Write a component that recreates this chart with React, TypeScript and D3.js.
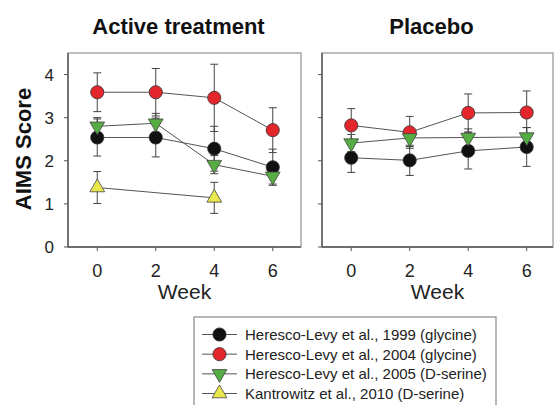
import { useEffect, useRef } from "react";
import * as d3 from "d3";

const WIDTH = 555;
const HEIGHT = 405;

const weeks = [0, 2, 4, 6];
const yTicks = [0, 1, 2, 3, 4];

const seriesNames = [
  "Heresco-Levy et al., 1999 (glycine)",
  "Heresco-Levy et al., 2004 (glycine)",
  "Heresco-Levy et al., 2005 (D-serine)",
  "Kantrowitz et al., 2010 (D-serine)",
];
const seriesColors = ["#111111", "#e3262b", "#55ad43", "#e8e84c"];
const seriesShapes = ["circle", "circle", "down", "up"];

// Active treatment (null = not reported)
const active1999 = [2.54, 2.54, 2.28, 1.85];
const active1999Err = [0.43, 0.45, 0.52, 0.42];
const active2004 = [3.59, 3.59, 3.46, 2.71];
const active2004Err = [0.45, 0.55, 0.78, 0.52];
const active2005 = [2.8, 2.87, 1.91, 1.64];
const active2005Err = [0.2, 0.23, 0.21, 0.18];
const active2010 = [1.38, null, 1.14, null];
const active2010Err = [0.37, null, 0.36, null];

// Placebo
const placebo1999 = [2.07, 2.01, 2.23, 2.32];
const placebo1999Err = [0.34, 0.35, 0.42, 0.45];
const placebo2004 = [2.82, 2.66, 3.11, 3.12];
const placebo2004Err = [0.39, 0.37, 0.44, 0.5];
const placebo2005 = [2.41, 2.53, 2.54, 2.55];
const placebo2005Err = [0.2, 0.2, 0.2, 0.22];

const FONT = "Liberation Sans, Arial, sans-serif";

export default function App() {
  const svgRef = useRef<SVGSVGElement>(null);

  useEffect(() => {
    if (!svgRef.current) return;
    const svg = d3.select(svgRef.current);
    svg.selectAll("*").remove();

    svg.append("rect").attr("width", WIDTH).attr("height", HEIGHT).attr("fill", "#fff");

    const top = 53;
    const bottom = 247;
    const y = d3.scaleLinear().domain([0, 4.5]).range([bottom, top]);

    const panels = [
      {
        title: "Active treatment",
        x: d3.scaleLinear().domain([-1, 7]).range([68, 302]),
        left: 68,
        right: 301,
        labels: true,
        series: [
          { v: active1999, e: active1999Err, i: 0 },
          { v: active2004, e: active2004Err, i: 1 },
          { v: active2005, e: active2005Err, i: 2 },
          { v: active2010, e: active2010Err, i: 3 },
        ],
      },
      {
        title: "Placebo",
        x: d3.scaleLinear().domain([-1, 6.9]).range([322, 553]),
        left: 322,
        right: 553,
        labels: false,
        series: [
          { v: placebo1999, e: placebo1999Err, i: 0 },
          { v: placebo2004, e: placebo2004Err, i: 1 },
          { v: placebo2005, e: placebo2005Err, i: 2 },
        ],
      },
    ];

    const drawMarker = (g: any, cx: number, cy: number, i: number, scale = 1) => {
      const shape = seriesShapes[i];
      if (shape === "circle") {
        g.append("circle")
          .attr("cx", cx)
          .attr("cy", cy)
          .attr("r", 6.6 * scale)
          .attr("fill", seriesColors[i])
          .attr("stroke", "#333")
          .attr("stroke-width", 0.8);
      } else {
        g.append("path")
          .attr("d", d3.symbol().type(d3.symbolTriangle).size(95 * scale * scale)())
          .attr("transform", `translate(${cx},${cy}) rotate(${shape === "down" ? 180 : 0})`)
          .attr("fill", seriesColors[i])
          .attr("stroke", "#444")
          .attr("stroke-width", 0.8);
      }
    };

    panels.forEach((p) => {
      const g = svg.append("g");
      const cx = (p.left + p.right) / 2;

      // Title
      g.append("text")
        .attr("x", cx - 6)
        .attr("y", 34)
        .attr("text-anchor", "middle")
        .attr("font-family", FONT)
        .attr("font-weight", "bold")
        .attr("font-size", "22px")
        .attr("fill", "#111")
        .text(p.title);

      // Frame
      g.append("rect")
        .attr("x", p.left)
        .attr("y", top)
        .attr("width", p.right - p.left)
        .attr("height", bottom - top)
        .attr("fill", "none")
        .attr("stroke", "#9a9a9a")
        .attr("stroke-width", 1.3);
      g.append("line")
        .attr("x1", p.left).attr("x2", p.left).attr("y1", top).attr("y2", bottom)
        .attr("stroke", "#555").attr("stroke-width", 1.4);
      g.append("line")
        .attr("x1", p.left).attr("x2", p.right).attr("y1", bottom).attr("y2", bottom)
        .attr("stroke", "#555").attr("stroke-width", 1.4);

      // Y ticks
      yTicks.forEach((t) => {
        g.append("line")
          .attr("x1", p.left - 4).attr("x2", p.left).attr("y1", y(t)).attr("y2", y(t))
          .attr("stroke", "#555").attr("stroke-width", 1);
        if (p.labels) {
          g.append("text")
            .attr("x", p.left - 14)
            .attr("y", y(t) + 6)
            .attr("text-anchor", "end")
            .attr("font-family", FONT)
            .attr("font-size", "17px")
            .attr("fill", "#222")
            .text(t);
        }
      });

      // X ticks
      weeks.forEach((w) => {
        g.append("line")
          .attr("x1", p.x(w)).attr("x2", p.x(w)).attr("y1", bottom).attr("y2", bottom + 4)
          .attr("stroke", "#555").attr("stroke-width", 1);
        g.append("text")
          .attr("x", p.x(w))
          .attr("y", 277)
          .attr("text-anchor", "middle")
          .attr("font-family", FONT)
          .attr("font-size", "18px")
          .attr("fill", "#222")
          .text(w);
      });

      g.append("text")
        .attr("x", cx)
        .attr("y", 299)
        .attr("text-anchor", "middle")
        .attr("font-family", FONT)
        .attr("font-size", "21px")
        .attr("fill", "#222")
        .text("Week");

      // Error bars
      p.series.forEach((s) => {
        s.v.forEach((v, k) => {
          const e = s.e[k];
          if (v == null || e == null) return;
          const xx = p.x(weeks[k]);
          g.append("line")
            .attr("x1", xx).attr("x2", xx).attr("y1", y(v - e)).attr("y2", y(v + e))
            .attr("stroke", "#444").attr("stroke-width", 1);
          [v - e, v + e].forEach((c) => {
            g.append("line")
              .attr("x1", xx - 4).attr("x2", xx + 4).attr("y1", y(c)).attr("y2", y(c))
              .attr("stroke", "#444").attr("stroke-width", 1);
          });
        });
      });

      // Connecting lines
      p.series.forEach((s) => {
        const pts = s.v
          .map((v, k) => (v == null ? null : ([p.x(weeks[k]), y(v)] as [number, number])))
          .filter((d): d is [number, number] => d !== null);
        g.append("path")
          .attr("d", d3.line()(pts))
          .attr("fill", "none")
          .attr("stroke", "#555")
          .attr("stroke-width", 1);
      });

      // Markers
      p.series.forEach((s) => {
        s.v.forEach((v, k) => {
          if (v == null) return;
          drawMarker(g, p.x(weeks[k]), y(v), s.i);
        });
      });
    });

    // Y axis title
    svg.append("text")
      .attr("transform", `translate(31,149) rotate(-90)`)
      .attr("text-anchor", "middle")
      .attr("font-family", FONT)
      .attr("font-weight", "bold")
      .attr("font-size", "22px")
      .attr("fill", "#111")
      .text("AIMS Score");

    // Legend
    const lg = svg.append("g");
    lg.append("rect")
      .attr("x", 194)
      .attr("y", 317)
      .attr("width", 302)
      .attr("height", 100)
      .attr("fill", "#fff")
      .attr("stroke", "#888")
      .attr("stroke-width", 1.2);
    const rowY = d3.scaleLinear().domain([0, 3]).range([334.5, 393.5]);
    seriesNames.forEach((name, i) => {
      const ry = rowY(i);
      lg.append("line")
        .attr("x1", 202).attr("x2", 237).attr("y1", ry).attr("y2", ry)
        .attr("stroke", "#555").attr("stroke-width", 1);
      drawMarker(lg, 219.5, ry, i);
      lg.append("text")
        .attr("x", 245)
        .attr("y", ry + 5.5)
        .attr("font-family", FONT)
        .attr("font-size", "15px")
        .attr("fill", "#222")
        .text(name);
    });
  }, []);

  return (
    <svg
      ref={svgRef}
      width={WIDTH}
      height={HEIGHT}
      style={{ position: "absolute", left: 0, top: 0 }}
    />
  );
}
